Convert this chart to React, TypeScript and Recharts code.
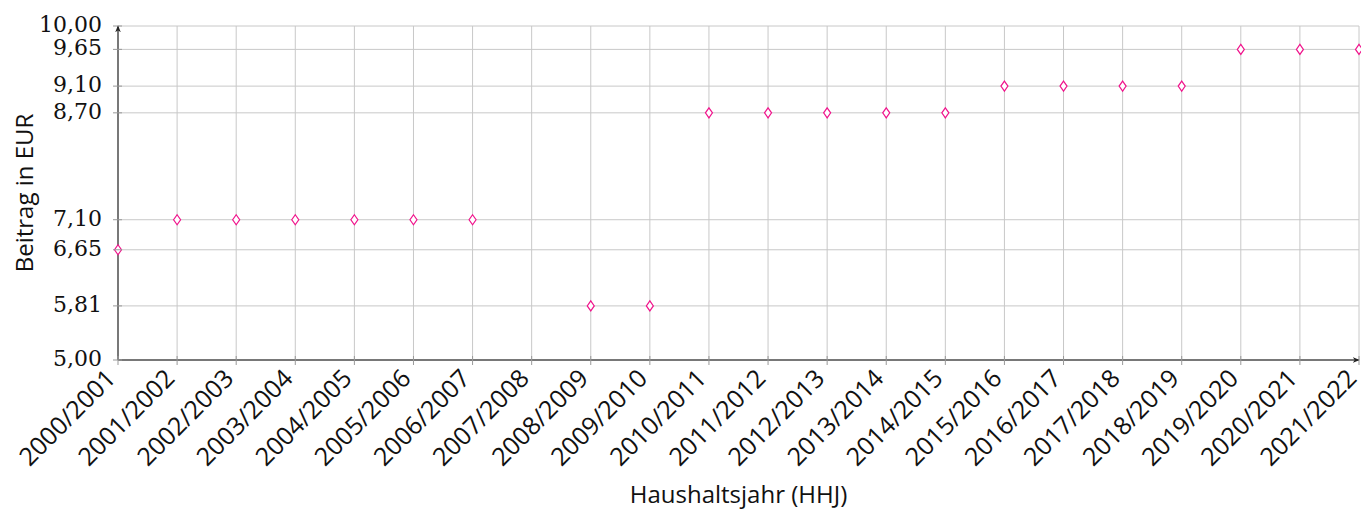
// Beitrag pro Haushaltsjahr, Punktdiagramm mit Rauten

import { LineChart, Line, XAxis, YAxis, CartesianGrid } from 'recharts';

const years = [
  '2000/2001', '2001/2002', '2002/2003', '2003/2004', '2004/2005', '2005/2006',
  '2006/2007', '2007/2008', '2008/2009', '2009/2010', '2010/2011', '2011/2012',
  '2012/2013', '2013/2014', '2014/2015', '2015/2016', '2016/2017', '2017/2018',
  '2018/2019', '2019/2020', '2020/2021', '2021/2022',
];

const beitrag: (number | null)[] = [
  6.65, 7.1, 7.1, 7.1, 7.1, 7.1, 7.1, null, 5.81, 5.81, 8.7, 8.7, 8.7, 8.7, 8.7,
  9.1, 9.1, 9.1, 9.1, 9.65, 9.65, 9.65,
];

const yTicks = [5.0, 5.81, 6.65, 7.1, 8.7, 9.1, 9.65, 10.0];

const data = years.map((hhj, i) => ({ hhj, beitrag: beitrag[i] }));

const AXIS = '#555';
const GRID = '#c8c8c8';
const PINK = '#f0148c';
const SANS = 'Open Sans, sans-serif';
const SERIF = 'DejaVu Serif, serif';

const fmt = (v: number) => v.toFixed(2).replace('.', ',');

// Raute als Markierung
const Diamond = (props: any) => {
  const { cx, cy, value } = props;
  if (value == null || cx == null || cy == null) return null;
  const w = 3.5;
  const h = 5;
  return (
    <path
      d={`M${cx},${cy - h} L${cx + w},${cy} L${cx},${cy + h} L${cx - w},${cy} Z`}
      fill="#fff"
      stroke={PINK}
      strokeWidth={1.2}
    />
  );
};

const YTick = (props: any) => {
  const { x, y, payload } = props;
  return (
    <g>
      <line x1={x - 5} x2={x + 4} y1={y} y2={y} stroke="#999" />
      <text
        x={x - 16}
        y={y}
        dy={6}
        textAnchor="end"
        style={{ fontFamily: SERIF, fontSize: 22 }}
        fill="#111"
      >
        {fmt(payload.value)}
      </text>
    </g>
  );
};

const XTick = (props: any) => {
  const { x, y, payload } = props;
  const tx = x - 1;
  const ty = y + 20;
  return (
    <g>
      <line x1={x} x2={x} y1={y - 4} y2={y + 5} stroke="#999" />
      <text
        x={tx}
        y={ty}
        textAnchor="end"
        transform={`rotate(-45 ${tx} ${ty})`}
        style={{ fontFamily: SANS, fontSize: 25 }}
        fill="#111"
      >
        {payload.value}
      </text>
    </g>
  );
};

export default function App() {
  return (
    <div style={{ position: 'absolute', left: 0, top: 0, background: '#fff' }}>
      <LineChart
        width={1361}
        height={509}
        data={data}
        margin={{ top: 26, right: 2, left: 0, bottom: 0 }}
      >
        <defs>
          <marker
            id="arrow"
            viewBox="0 0 10 10"
            refX="9"
            refY="5"
            markerWidth="7"
            markerHeight="7"
            markerUnits="userSpaceOnUse"
            orient="auto-start-reverse"
          >
            <path d="M0,1 L10,5 L0,9 L3,5 Z" fill="#222" />
          </marker>
        </defs>
        <CartesianGrid stroke={GRID} />
        <XAxis
          dataKey="hhj"
          interval={0}
          height={149}
          tickSize={0}
          tickMargin={0}
          tickLine={false}
          axisLine={{ stroke: AXIS, strokeWidth: 1.5, markerEnd: 'url(#arrow)' }}
          tick={<XTick />}
          label={{
            value: 'Haushaltsjahr (HHJ)',
            position: 'insideBottom',
            offset: 6,
            fontFamily: SANS,
            fontSize: 24,
            fill: '#111',
          }}
        />
        <YAxis
          type="number"
          domain={[5, 10]}
          ticks={yTicks}
          interval={0}
          width={118}
          tickSize={0}
          tickMargin={0}
          tickLine={false}
          axisLine={{ stroke: AXIS, strokeWidth: 1.5, markerStart: 'url(#arrow)' }}
          tick={<YTick />}
          label={{
            value: 'Beitrag in EUR',
            angle: -90,
            position: 'insideLeft',
            offset: 24,
            fontFamily: SANS,
            fontSize: 24,
            fill: '#111',
            style: { textAnchor: 'middle' },
          }}
        />
        <Line
          dataKey="beitrag"
          stroke="none"
          dot={<Diamond />}
          activeDot={false}
          isAnimationActive={false}
        />
      </LineChart>
    </div>
  );
}
